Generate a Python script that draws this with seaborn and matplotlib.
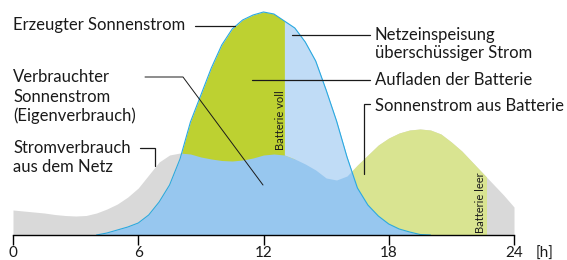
import numpy as np
import pandas as pd
import matplotlib.pyplot as plt
import seaborn as sns

sns.set_theme(style='white')
plt.rcParams['font.family'] = ['Lato', 'DejaVu Sans']

# Tagesverlauf in halbstündigen Schritten (Höhe in relativen Einheiten)
hours = np.arange(0, 24.01, 0.5)
consumption = [25, 24, 23, 22, 20.5, 19.5, 19, 19.5, 22, 26, 31, 38, 47, 60, 73, 80, 82,
               81, 78, 76, 74.5, 74, 75, 77, 80, 81, 80, 76, 71, 65, 57, 55, 59, 70, 80,
               90, 97, 102, 105, 106, 105, 101, 93, 84, 73, 62, 51, 40, 28]
solar = [0, 0, 0, 0, 0, 0, 0, 0, 0, 2, 5, 8, 12, 20, 33, 50, 76,
         113, 140, 167, 190, 206, 215, 220, 223, 221, 214, 207, 193, 174, 145, 114, 78, 47, 30,
         19, 11, 6, 3, 0.5, 0, 0, 0, 0, 0, 0, 0, 0, 0]
battery_full = 13.0
battery_empty = 22.66
ticks = [0, 6, 12, 18, 24]

df = pd.DataFrame({'hour': hours, 'consumption': consumption, 'solar': solar})

GRAY = '#d9d9d9'
BLUE = '#97c7ef'
CHARGE = '#bdd131'
FEED = '#c0dcf6'
DISCHARGE = '#d9e491'
EDGE = '#2aa9e0'
INK = '#1a1a1a'
FS = 12

fig = plt.figure(figsize=(5.67, 2.6), dpi=100)
ax = fig.add_axes([13 / 567, 25 / 260, 501 / 567, 235 / 260])

h, c, s = df['hour'], df['consumption'], df['solar']
ax.fill_between(h, 0, c, color=GRAY, lw=0)
ax.fill_between(h, 0, s, color=BLUE, lw=0)
ax.fill_between(h, c, s, where=(s > c) & (h <= battery_full), interpolate=True, color=CHARGE, lw=0)
ax.fill_between(h, c, s, where=(s > c) & (h >= battery_full), interpolate=True, color=FEED, lw=0)
dis = ax.fill_between(h, s, c, where=(c >= s) & (h >= 14), interpolate=True, color=DISCHARGE, lw=0)
dis.set_clip_path(plt.Rectangle((0, 0), battery_empty, 250, transform=ax.transData))

sns.lineplot(data=df[(df.hour >= 4) & (df.hour <= 20)], x='hour', y='solar',
             color=EDGE, lw=0.8, ax=ax)

ax.set_xlim(0, 24)
ax.set_ylim(0, 235)
ax.set_xticks(ticks)
ax.set_xticklabels([str(t) for t in ticks])
ax.set_yticks([])
ax.set_xlabel('')
ax.set_ylabel('')
for side in ['top', 'left', 'right']:
    ax.spines[side].set_visible(False)
ax.spines['bottom'].set_color('black')
ax.spines['bottom'].set_linewidth(1)
ax.tick_params(axis='x', bottom=True, length=7, width=1, color='black', pad=1,
               labelsize=11, labelcolor=INK)


def px(x, y):
    # Pixelposition im Bild -> Datenkoordinaten
    return (x - 13) / 20.875, 235 - y


def label(x, y, txt, **kw):
    ax.text(*px(x, y), txt, ha='left', va='center', fontsize=FS, color=INK, **kw)


def leader(points, lw=0.9):
    xs, ys = zip(*[px(*p) for p in points])
    ax.plot(xs, ys, color=INK, lw=lw, clip_on=False, solid_joinstyle='miter')


label(13, 25, 'Erzeugter Sonnenstrom')
leader([(195, 26), (235, 26)])

label(13, 77, 'Verbrauchter')
label(13, 97, 'Sonnenstrom')
label(13, 116, '(Eigenverbrauch)')
leader([(145, 77), (183, 77), (263, 185)], lw=0.7)

label(13, 148, 'Stromverbrauch')
label(13, 167, 'aus dem Netz')
leader([(140, 148), (155, 148), (155, 166)])

label(375, 35, 'Netzeinspeisung')
label(375, 53, 'überschüssiger Strom')
leader([(292, 35), (370, 35)])

label(375, 80, 'Aufladen der Batterie')
leader([(252, 80), (370, 80)])

label(375, 106, 'Sonnenstrom aus Batterie')
leader([(370, 104), (364, 104), (364, 174)])

ax.text(*px(280, 120), 'Batterie voll', rotation=90, ha='center', va='center',
        fontsize=8, color=INK)
ax.text(*px(481, 203), 'Batterie leer', rotation=90, ha='center', va='center',
        fontsize=8, color=INK)
ax.text(*px(545, 254), '[h]', ha='center', va='center', fontsize=11, color=INK, clip_on=False)

fig.savefig('out.png', dpi=100)
